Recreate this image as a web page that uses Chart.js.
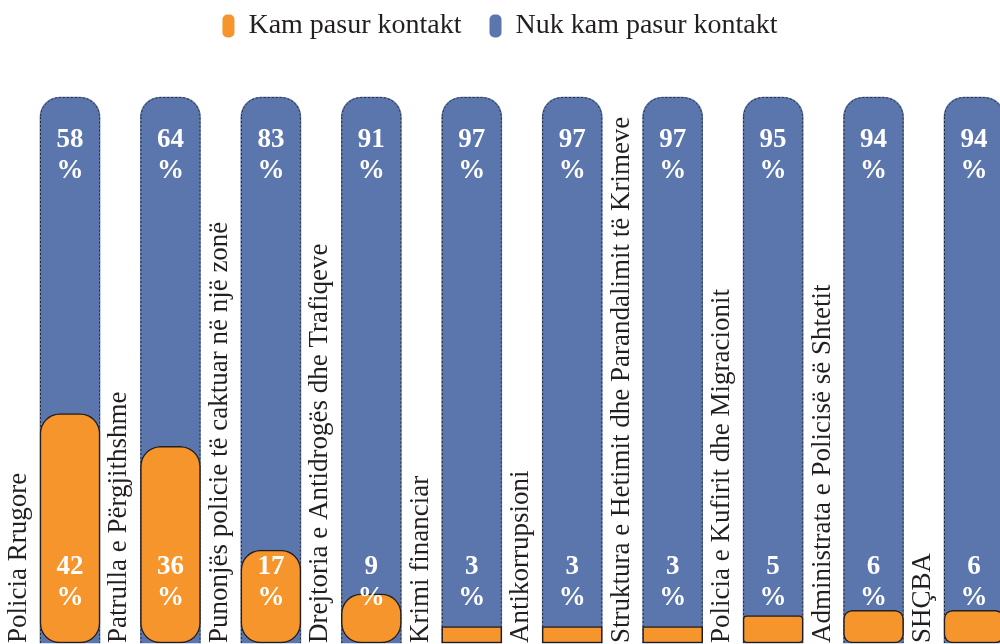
<!DOCTYPE html>
<html>
<head>
<meta charset="utf-8">
<script src="https://cdn.jsdelivr.net/npm/chart.js@4.4.1/dist/chart.umd.min.js"></script>
<style>
  html, body { margin: 0; padding: 0; background: #fff; overflow: hidden; }
  .chart { width: 1000px; height: 644px; }
</style>
</head>
<body>
<div class="chart"><canvas id="myChart"></canvas></div>
<script>
// Contact with police units (share of respondents)

const categories = [
  "Policia Rrugore",
  "Patrulla e Përgjithshme",
  "Punonjës policie të caktuar në një zonë",
  "Drejtoria e Antidrogës dhe Trafiqeve",
  "Krimi financiar",
  "Antikorrupsioni",
  "Struktura e Hetimit dhe Parandalimit të Krimeve",
  "Policia e Kufirit dhe Migracionit",
  "Administrata e Policisë së Shtetit",
  "SHÇBA",
];
const seriesNames = ["Kam pasur kontakt", "Nuk kam pasur kontakt"];
const contactValues = [42, 36, 17, 9, 3, 3, 3, 5, 6, 6];
const noContactValues = [58, 64, 83, 91, 97, 97, 97, 95, 94, 94];

const orange = "#f6952b";
const blue = "#5b76ad";
const ink = "#231f20";

// blue bar runs the full stack, orange sits on top of it
const blueBars = noContactValues.map((v, i) => [0, v + contactValues[i]]);

const barLabels = {
  id: "barLabels",
  afterDatasetDraw(chart, args) {
    if (args.index !== 1) return;
    const ctx = chart.ctx;
    ctx.save();
    ctx.setLineDash([2, 2]);
    ctx.strokeStyle = "#2a2a2a";
    ctx.lineWidth = 1;
    args.meta.data.forEach((bar) => {
      const { x, y, base, width } = bar.getProps(["x", "y", "base", "width"], true);
      const l = x - width / 2 + 0.5;
      const r = x + width / 2 - 0.5;
      const rad = 20;
      ctx.beginPath();
      ctx.moveTo(l, base);
      ctx.lineTo(l, y + rad);
      ctx.arcTo(l, y + 0.5, l + rad, y + 0.5, rad);
      ctx.lineTo(r - rad, y + 0.5);
      ctx.arcTo(r, y + 0.5, r, y + rad, rad);
      ctx.lineTo(r, base);
      ctx.stroke();
    });
    ctx.restore();
  },
  afterDatasetsDraw(chart) {
    const ctx = chart.ctx;
    const xs = chart.scales.x;
    const ys = chart.scales.y;
    const zero = ys.getPixelForValue(0);

    ctx.save();
    ctx.fillStyle = ink;
    ctx.font = "27px 'Liberation Serif'";
    ctx.textAlign = "left";
    ctx.textBaseline = "alphabetic";
    categories.forEach((name, i) => {
      ctx.save();
      ctx.translate(xs.getPixelForValue(i) - 44, zero);
      ctx.rotate(-Math.PI / 2);
      ctx.fillText(name, 0, 0);
      ctx.restore();
    });

    ctx.fillStyle = "#fff";
    ctx.font = "bold 27px 'Liberation Serif'";
    ctx.textAlign = "center";
    ctx.textBaseline = "middle";
    chart.getDatasetMeta(0).data.forEach((bar, i) => {
      ctx.fillText(contactValues[i], bar.x, zero - 76);
      ctx.fillText("%", bar.x, zero - 45);
    });
    chart.getDatasetMeta(1).data.forEach((bar, i) => {
      ctx.fillText(noContactValues[i], bar.x, bar.y + 43);
      ctx.fillText("%", bar.x, bar.y + 74);
    });
    ctx.restore();
  },
};

function orangeRadius(c) {
  const v = contactValues[c.dataIndex];
  if (v < 4) return 0;
  if (v < 6) return 4;
  if (v < 8) return 9;
  return 20;
}

const hidden = {
  display: true,
  grid: { display: false },
  ticks: { display: false },
  border: { display: false },
};

new Chart(document.getElementById("myChart"), {
  type: "bar",
  data: {
    labels: categories,
    datasets: [
      {
        label: seriesNames[0],
        data: contactValues,
        backgroundColor: orange,
        borderColor: ink,
        borderWidth: 1.5,
        borderSkipped: false,
        borderRadius: orangeRadius,
        barThickness: 60,
        grouped: false,
        clip: false,
      },
      {
        label: seriesNames[1],
        data: blueBars,
        backgroundColor: blue,
        borderWidth: 0,
        borderSkipped: false,
        borderRadius: { topLeft: 20, topRight: 20, bottomLeft: 0, bottomRight: 0 },
        barThickness: 60,
        grouped: false,
        clip: false,
      },
    ],
  },
  options: {
    responsive: true,
    maintainAspectRatio: false,
    animation: false,
    events: [],
    layout: { padding: { top: -16, bottom: 1 } },
    scales: {
      x: {
        offset: false,
        grid: { display: false },
        ticks: { display: false },
        border: { display: false },
        afterFit(s) { s.height = 0; },
      },
      xTop: {
        ...hidden,
        type: "linear",
        position: "top",
        afterFit(s) { s.height = 47; },
      },
      y: {
        ...hidden,
        min: 0,
        max: 100,
        afterFit(s) { s.width = 70; },
      },
      yRight: {
        ...hidden,
        type: "linear",
        position: "right",
        afterFit(s) { s.width = 26; },
      },
    },
    plugins: {
      legend: {
        position: "top",
        labels: {
          color: ink,
          font: { family: "'Liberation Serif'", size: 28 },
          boxWidth: 12,
          boxHeight: 23,
          padding: 28,
          useBorderRadius: true,
          borderRadius: 5,
          generateLabels(chart) {
            return Chart.defaults.plugins.legend.labels.generateLabels(chart).map((item) => {
              item.lineWidth = 0;
              item.strokeStyle = "rgba(0,0,0,0)";
              return item;
            });
          },
        },
      },
      tooltip: { enabled: false },
    },
  },
  plugins: [barLabels],
});
</script>
</body>
</html>
